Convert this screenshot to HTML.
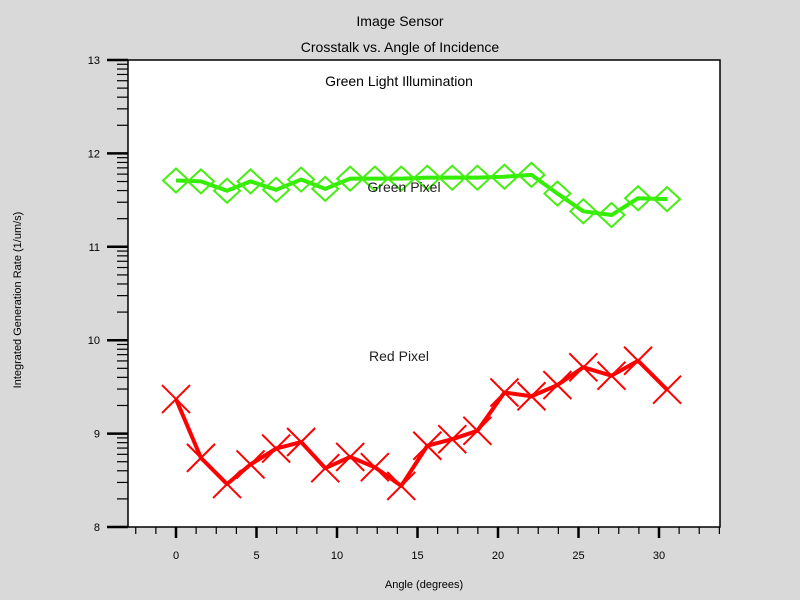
<!DOCTYPE html>
<html><head><meta charset="utf-8"><style>
body{margin:0;background:#d9d9d9;}
svg{display:block;font-family:"Liberation Sans",sans-serif;}
</style></head><body>
<svg id="chart" width="800" height="600">
<rect x="0" y="0" width="800" height="600" fill="#d9d9d9"/>
<rect x="128" y="60" width="592" height="467" fill="#fff" stroke="#000" stroke-width="1.5"/>
<text x="400" y="26" text-anchor="middle" font-size="14">Image Sensor</text>
<text x="400" y="52" text-anchor="middle" font-size="14">Crosstalk vs. Angle of Incidence</text>
<text x="399" y="86" text-anchor="middle" font-size="14">Green Light Illumination</text>
<text x="424" y="588" text-anchor="middle" font-size="11">Angle (degrees)</text>
<text transform="translate(21,300) rotate(-90)" text-anchor="middle" font-size="11">Integrated Generation Rate (1/um/s)</text>
<g id="axes"></g>
<g id="series"></g>
<text x="404" y="192" text-anchor="middle" font-size="14" fill="#222">Green Pixel</text>
<text x="399" y="361" text-anchor="middle" font-size="14" fill="#222">Red Pixel</text>
</svg>
<script>
const angles = [0,1.55,3.17,4.63,6.22,7.77,9.27,10.82,12.35,13.99,15.61,17.16,18.72,20.4,22.08,23.69,25.3,27.05,28.7,30.5];
const redValues = [9.37,8.74,8.46,8.67,8.84,8.91,8.63,8.75,8.64,8.44,8.87,8.94,9.03,9.44,9.40,9.52,9.71,9.62,9.78,9.47];
const greenValues = [11.71,11.70,11.60,11.70,11.61,11.72,11.62,11.73,11.73,11.73,11.74,11.74,11.74,11.75,11.77,11.57,11.38,11.34,11.52,11.51];
const yTicks = [8,9,10,11,12,13];
const xTicks = [0,5,10,15,20,25,30];
const NS="http://www.w3.org/2000/svg";
function X(v){return 176+(v-0)*16.1;}
function Y(v){return 527-(v-8)*93.4;}
function mk(tag,attrs,parent){const e=document.createElementNS(NS,tag);for(const k in attrs)e.setAttribute(k,attrs[k]);parent.appendChild(e);return e;}
const axes=document.getElementById('axes');
yTicks.forEach(t=>{
  const l=mk('line',{x1:107,x2:128,y1:Y(t),y2:Y(t),stroke:'#000','stroke-width':2.5},axes);
  
  
  const tx=mk('text',{x:100,y:Y(t)+4,'text-anchor':'end','font-size':11},axes);
  tx.textContent=t;
  
  
  if(t<13){for(let m=2;m<=9;m++){const yy=Y(t+Math.log10(m));
    const ml=mk('line',{x1:117,x2:128,y1:yy,y2:yy,stroke:'#000','stroke-width':1.2},axes);
    
    }}
});
for(let v=-2.5;v<=33.8;v+=1.25){
  const major=Math.abs(v/5-Math.round(v/5))<1e-6;
  const l=mk('line',{x1:X(v),x2:X(v),y1:527,y2:major?538:534,stroke:'#000','stroke-width':major?2.5:1.2},axes);
  
  
}
xTicks.forEach(t=>{
  const tx=mk('text',{x:X(t),y:559,'text-anchor':'middle','font-size':11},axes);
  tx.textContent=t;
  
  
});
const ser=document.getElementById('series');
function drawLine(vals,color,name){
  const pts=angles.map((a,i)=>X(a)+','+Y(vals[i])).join(' ');
  const p=mk('polyline',{points:pts,fill:'none',stroke:color,'stroke-width':4,'stroke-linejoin':'round'},ser);
  
  
}
drawLine(greenValues,'#33ee00','green-pixel-line');
drawLine(redValues,'#ff0000','red-pixel-line');
angles.forEach((a,i)=>{
  const cx=X(a),cy=Y(greenValues[i]);
  const d=mk('polygon',{points:`${cx-13},${cy} ${cx},${cy-12} ${cx+13},${cy} ${cx},${cy+12}`,fill:'none',stroke:'#44ee11','stroke-width':2},ser);
  
  
  const rx=X(a),ry=Y(redValues[i]);
  const xm=mk('path',{d:`M${rx-14},${ry-14}L${rx+14},${ry+14}M${rx-14},${ry+14}L${rx+14},${ry-14}`,stroke:'#ff0000','stroke-width':2,fill:'none'},ser);
  
  
});
</script>
</body></html>
